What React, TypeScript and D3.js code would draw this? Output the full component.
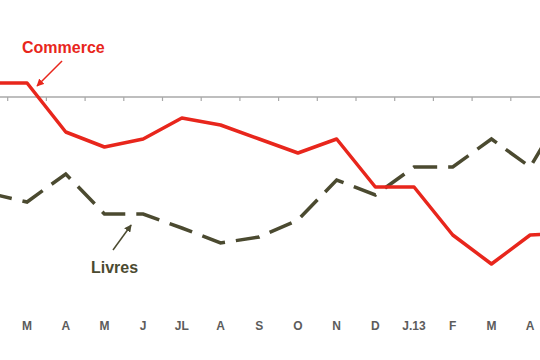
import React, { useEffect, useRef } from "react";
import * as d3 from "d3";

// month labels (first and last points sit outside the visible frame)
const months = ["F", "M", "A", "M", "J", "JL", "A", "S", "O", "N", "D", "J.13", "F", "M", "A", "M"];
const commerce = [1.4, 1.4, -3.5, -5.0, -4.2, -2.1, -2.8, -4.2, -5.6, -4.2, -9.0, -9.0, -13.8, -16.7, -13.8, -13.6];
const livres = [-9.6, -10.5, -7.7, -11.7, -11.7, -13.1, -14.6, -14.0, -12.3, -8.3, -9.8, -7.0, -7.0, -4.2, -7.0, -0.5];

function App() {
  const ref = useRef<SVGSVGElement>(null);
  const width = 540;
  const height = 360;

  useEffect(() => {
    const svg = d3.select(ref.current);
    svg.selectAll("*").remove();

    const idx = d3.range(months.length);
    const x = d3.scaleBand<number>().domain(idx).range([-31, -31 + 38.7 * months.length]).padding(0);
    const cx = (i: number) => (x(i) as number) + x.bandwidth() / 2;
    const y = d3.scaleLinear().domain([0, -20]).range([97, 297]);

    const defs = svg.append("defs");
    const marker = (id: string, color: string) =>
      defs.append("marker")
        .attr("id", id)
        .attr("viewBox", "0 0 10 10")
        .attr("refX", 9).attr("refY", 5)
        .attr("markerWidth", 5).attr("markerHeight", 5)
        .attr("orient", "auto")
        .append("path").attr("d", "M0,0 L10,5 L0,10 z").attr("fill", color);
    marker("arrRed", "#e8261c");
    marker("arrOlive", "#4b4a30");

    const chart = svg.append("g");

    // axis line with ticks at category boundaries
    chart.append("line")
      .attr("x1", 0).attr("x2", width)
      .attr("y1", y(0)).attr("y2", y(0))
      .attr("stroke", "#a8a8a8").attr("stroke-width", 1.5);
    chart.selectAll(".tick")
      .data(idx.slice(1))
      .enter().append("line")
      .attr("x1", d => x(d) as number).attr("x2", d => x(d) as number)
      .attr("y1", y(0)).attr("y2", y(0) + 4)
      .attr("stroke", "#a8a8a8").attr("stroke-width", 1.2);

    // month labels, only the ones inside the frame
    const visible = idx.filter(i => cx(i) > 0 && cx(i) < width);
    chart.selectAll(".lbl")
      .data(visible)
      .enter().append("text")
      .attr("x", d => cx(d))
      .attr("y", 330)
      .attr("text-anchor", "middle")
      .style("font-family", "Liberation Sans, Arial, sans-serif")
      .style("font-size", "12px")
      .style("font-weight", "bold")
      .style("fill", "#5c5c5c")
      .text(d => months[d]);

    const line = d3.line<number>().x((d, i) => cx(i)).y(d => y(d));

    chart.append("path")
      .datum(livres)
      .attr("d", line)
      .attr("fill", "none")
      .attr("stroke", "#4b4a30")
      .attr("stroke-width", 3.5)
      .attr("stroke-dasharray", "24,11");

    chart.append("path")
      .datum(commerce)
      .attr("d", line)
      .attr("fill", "none")
      .attr("stroke", "#e8261c")
      .attr("stroke-width", 3.5)
      .attr("stroke-linejoin", "round");

    // annotations
    chart.append("text")
      .attr("x", 22).attr("y", 53)
      .style("font-family", "Liberation Sans, Arial, sans-serif")
      .style("font-size", "16px")
      .style("font-weight", "bold")
      .style("fill", "#e8261c")
      .text("Commerce");
    chart.append("line")
      .attr("x1", cx(1) + 35).attr("y1", 61)
      .attr("x2", cx(1) + 10).attr("y2", y(commerce[1]) + 3)
      .attr("stroke", "#e8261c").attr("stroke-width", 1.5)
      .attr("marker-end", "url(#arrRed)");

    chart.append("text")
      .attr("x", 91).attr("y", 273)
      .style("font-family", "Liberation Sans, Arial, sans-serif")
      .style("font-size", "16px")
      .style("font-weight", "bold")
      .style("fill", "#4b4a30")
      .text("Livres");
    chart.append("line")
      .attr("x1", 113).attr("y1", 250)
      .attr("x2", cx(4) - 12).attr("y2", y(livres[4]) + 11)
      .attr("stroke", "#4b4a30").attr("stroke-width", 1.5)
      .attr("marker-end", "url(#arrOlive)");
  }, []);

  return (
    <svg
      ref={ref}
      width={width}
      height={height}
      style={{ position: "absolute", left: 0, top: 0, background: "#fff" }}
    ></svg>
  );
}

export default App;
